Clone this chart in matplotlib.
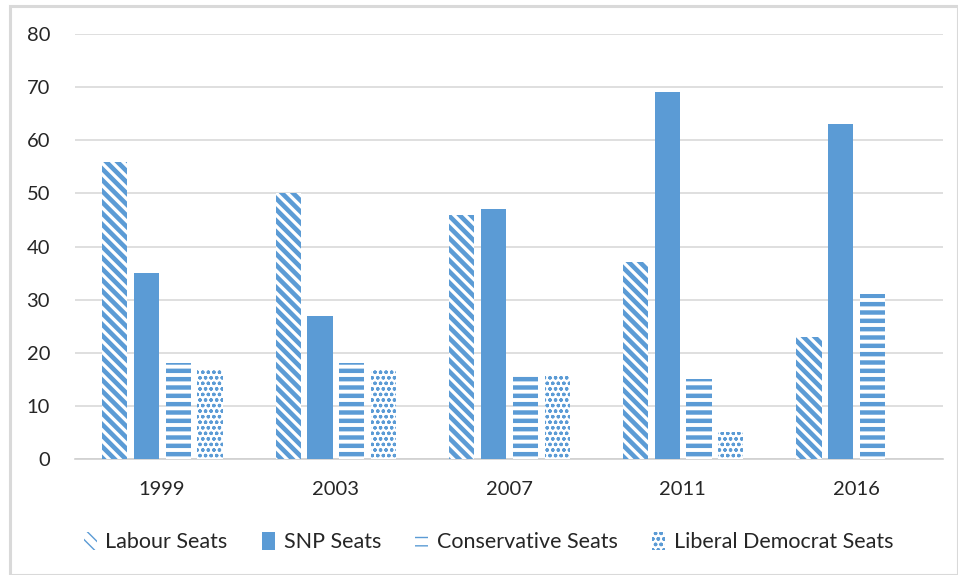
import matplotlib
matplotlib.use("Agg")
import matplotlib.pyplot as plt
import numpy as np
from matplotlib.patches import Rectangle, Patch

years = ["1999", "2003", "2007", "2011", "2016"]
labour = [56, 50, 46, 37, 23]
snp = [35, 27, 47, 69, 63]
conservative = [18, 18, 16, 15, 31]
libdem = [17, 17, 16, 5, 0]
series_names = ["Labour Seats", "SNP Seats", "Conservative Seats", "Liberal Democrat Seats"]

BLUE = "#5B9BD5"
plt.rcParams['font.family'] = ['Lato', 'DejaVu Sans']

W, H = 958, 575
fig = plt.figure(figsize=(W / 100, H / 100), dpi=100)
ax = fig.add_axes([75 / W, 1 - 459 / H, (943 - 75) / W, (459 - 34) / H])

x = np.arange(len(years))
bw = 0.145
step = 0.183
offs = [-1.5 * step, -0.5 * step, 0.5 * step, 1.5 * step]

styles = [("\\\\\\", 3.3), ("", 1.0), ("--", 3.2), ("ooo", 0.9)]
data = [labour, snp, conservative, libdem]
handles = []
for i, (vals, (hatch, hlw)) in enumerate(zip(data, styles)):
    with plt.rc_context({"hatch.linewidth": hlw, "hatch.color": BLUE}):
        if hatch:
            ax.bar(x + offs[i] + 0.003, vals, bw, color="white", edgecolor=BLUE,
                   linewidth=0, hatch=hatch, zorder=3)
            h = Patch(facecolor="white", edgecolor=BLUE, linewidth=0, hatch=hatch)
        else:
            ax.bar(x + offs[i] + 0.003, vals, bw, color=BLUE, linewidth=0, zorder=3)
            h = Patch(facecolor=BLUE, linewidth=0)
    handles.append(h)

ax.set_ylim(0, 80)
ax.set_xlim(-0.5, len(years) - 0.5)
ax.set_yticks(range(0, 81, 10))
ax.set_xticks(x)
ax.set_xticklabels(years)
ax.yaxis.grid(True, color="#d9d9d9", linewidth=1.2, zorder=0)
ax.set_axisbelow(True)
for s in ["top", "right", "left"]:
    ax.spines[s].set_visible(False)
ax.spines["bottom"].set_color("#d0d0d0")
ax.spines["bottom"].set_linewidth(1.2)
ax.tick_params(axis="both", length=0, labelsize=14.5, colors="#262626")
ax.tick_params(axis="y", pad=18)
ax.tick_params(axis="x", pad=16)

leg = fig.legend(handles, series_names, loc="center", bbox_to_anchor=(0.51, 1 - 542 / H),
                 ncol=4, frameon=False, fontsize=15.5, handlelength=0.6, handleheight=0.9,
                 handletextpad=0.4, columnspacing=1.6, labelcolor="#262626")

fig.patches.append(Rectangle((10 / W, 0), 1 - 10 / W, 1 - 6 / H, transform=fig.transFigure,
                             fill=False, edgecolor="#d9d9d9", linewidth=2.2, zorder=0))

fig.savefig("out.png", dpi=100)
